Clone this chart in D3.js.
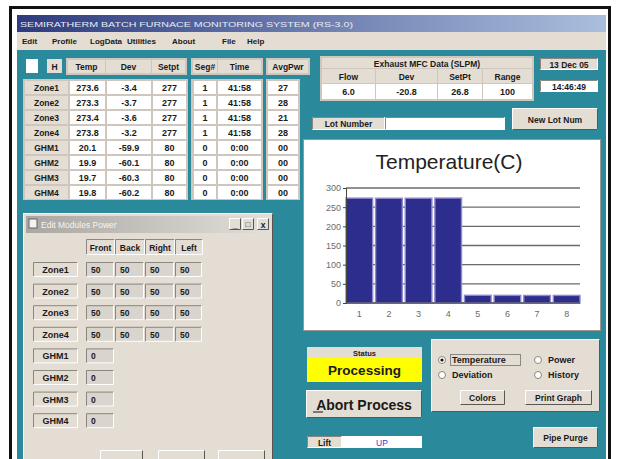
<!DOCTYPE html>
<html>
<head>
<meta charset="utf-8">
<script src="https://cdn.jsdelivr.net/npm/d3@7"></script>
<style>
  body { margin: 0; background: #fff; }
  svg { display: block; }
</style>
</head>
<body>
<div id="screen"></div>
<script>
// chart data
const channels = ["1", "2", "3", "4", "5", "6", "7", "8"];
const temps = [273.6, 273.3, 273.4, 273.8, 20.1, 19.9, 19.7, 19.8];
const tempTicks = [0, 50, 100, 150, 200, 250, 300];

// status table data
const zoneNames = ["Zone1", "Zone2", "Zone3", "Zone4", "GHM1", "GHM2", "GHM3", "GHM4"];
const devs = ["-3.4", "-3.7", "-3.6", "-3.2", "-59.9", "-60.1", "-60.3", "-60.2"];
const setpts = ["277", "277", "277", "277", "80", "80", "80", "80"];
const segs = ["1", "1", "1", "1", "0", "0", "0", "0"];
const segTimes = ["41:58", "41:58", "41:58", "41:58", "0:00", "0:00", "0:00", "0:00"];
const avgPwr = ["27", "28", "21", "28", "00", "00", "00", "00"];
const mfcHeads = ["Flow", "Dev", "SetPt", "Range"];
const mfcValues = ["6.0", "-20.8", "26.8", "100"];
const powerHeads = ["Front", "Back", "Right", "Left"];
const zonePower = [[50, 50, 50, 50], [50, 50, 50, 50], [50, 50, 50, 50], [50, 50, 50, 50]];
const ghmPower = [0, 0, 0, 0];
const menuItems = ["Edit", "Profile", "LogData", "Utilities", "About", "File", "Help"];
const menuX = [22, 52, 90, 127, 172, 222, 247];

const FONT = "'Liberation Sans', Arial, sans-serif";
const BEIGE = "#e4ddd3", TEAL = "#2a8a9c";

let svg = d3.select("#screen").append("svg")
    .attr("width", 618)
    .attr("height", 459);

// ---- helpers
function rect(x, y, w, h, fill, stroke) {
  return svg.append("rect")
    .attr("x", x).attr("y", y).attr("width", w).attr("height", h)
    .attr("fill", fill)
    .attr("stroke", stroke || "none");
}

function text(x, y, t, o) {
  o = o || {};
  return svg.append("text")
    .attr("x", x).attr("y", y)
    .attr("text-anchor", o.anchor || "middle")
    .attr("dominant-baseline", "central")
    .style("font-family", FONT)
    .style("font-size", (o.size || 8.5) + "px")
    .style("font-weight", o.weight || "bold")
    .attr("fill", o.color || "#1a1a1a")
    .text(t);
}

function edge(x, y, w, h, raised) {
  const lt = raised ? "#ffffff" : "#8a8680", rb = raised ? "#5a5650" : "#ffffff";
  svg.append("path").attr("d", `M${x + .5},${y + h - .5}V${y + .5}H${x + w - .5}`)
    .attr("fill", "none").attr("stroke", lt);
  svg.append("path").attr("d", `M${x + .5},${y + h - .5}H${x + w - .5}V${y + .5}`)
    .attr("fill", "none").attr("stroke", rb);
}

function cell(x, y, w, h, t, fill, o) {
  rect(x, y, w, h, fill);
  if (t !== "") text(x + w / 2, y + h / 2 + .5, t, o);
}

function button(x, y, w, h, t, o) {
  rect(x, y, w, h, BEIGE);
  edge(x, y, w, h, true);
  text(x + w / 2, y + h / 2 + .5, t, o);
}

// ---- outer frame and window
rect(10.5, 7.5, 599, 460, "#fff", "#111").attr("stroke-width", 3);
rect(17, 15, 589, 444, TEAL);

let grad = svg.append("defs").append("linearGradient").attr("id", "tb");
grad.append("stop").attr("offset", "0%").attr("stop-color", "#2e3b7e");
grad.append("stop").attr("offset", "100%").attr("stop-color", "#aabedd");
rect(17, 15, 589, 17, "url(#tb)");
text(20, 24, "SEMIRATHERM BATCH FURNACE MONITORING SYSTEM (RS-3.0)",
  {anchor: "start", color: "#e8ecf6", size: 8, weight: "normal"})
  .attr("textLength", 333).attr("lengthAdjust", "spacingAndGlyphs");

rect(17, 32, 589, 18, BEIGE);
menuItems.forEach((m, i) => text(menuX[i], 41, m, {anchor: "start", size: 8}));

// ---- top-left status table
rect(26, 59, 12, 14, "#fff");
cell(47, 59, 15, 14, "H", BEIGE);

rect(66, 58, 121, 17, "#cfc7bd");
cell(68, 60, 37, 13, "Temp", BEIGE);
cell(106, 60, 45, 13, "Dev", BEIGE);
cell(152, 60, 33, 13, "Setpt", BEIGE);
rect(191, 58, 72, 17, "#cfc7bd");
cell(193, 60, 24, 13, "Seg#", BEIGE);
cell(218, 60, 43, 13, "Time", BEIGE);
rect(266, 58, 44, 17, "#cfc7bd");
cell(268, 60, 40, 13, "AvgPwr", BEIGE);

rect(23, 79, 165, 121, "#cfc7bd");
rect(191, 79, 72, 121, "#cfc7bd");
rect(266, 79, 34, 121, "#cfc7bd");
zoneNames.forEach((z, i) => {
  const y = 81 + i * 15;
  cell(25, y, 43, 13, z, BEIGE);
  cell(70, y, 35, 13, temps[i].toFixed(1), "#fff", {size: 9});
  cell(107, y, 44, 13, devs[i], "#fff", {size: 9});
  cell(153, y, 33, 13, setpts[i], "#fff", {size: 9});
  cell(194, y, 22, 13, segs[i], "#fff", {size: 9});
  cell(218, y, 43, 13, segTimes[i], "#fff", {size: 9});
  cell(268, y, 30, 13, avgPwr[i], "#fff", {size: 9});
});

// ---- exhaust MFC group
rect(320, 56, 214, 45, "#cfc7bd");
cell(322, 58, 210, 10, "Exhaust MFC Data (SLPM)", BEIGE);
const mfcX = [322, 376, 438, 483], mfcW = [53, 61, 44, 49];
mfcHeads.forEach((h, i) => {
  cell(mfcX[i], 69, mfcW[i], 14, h, BEIGE);
  cell(mfcX[i], 84, mfcW[i], 15, mfcValues[i], "#fff", {size: 9});
});

cell(540, 58, 58, 12, "13 Dec 05", BEIGE);
edge(540, 58, 58, 12, false);
cell(540, 80, 58, 12, "14:46:49", "#fff");
edge(540, 80, 58, 12, false);

// ---- lot number
cell(312, 117, 73, 13, "Lot Number", BEIGE);
edge(312, 117, 73, 13, false);
rect(385, 117, 120, 13, "#fff");
edge(385, 117, 120, 13, false);
button(512, 108, 86, 22, "New Lot Num");

// ---- temperature chart
rect(303.5, 139.5, 297, 191, "#fff", "#9a9690");

let x = d3.scaleBand()
  .domain(channels)
  .range([346, 580])
  .paddingInner(0.1)
  .paddingOuter(0);
let y = d3.scaleLinear()
  .domain([0, 300])
  .range([303, 188]);

let chart = svg.append("g");

chart.selectAll(".grid")
  .data(tempTicks)
  .enter()
  .append("line")
  .attr("class", "grid")
  .attr("x1", x.range()[0]).attr("x2", x.range()[1])
  .attr("y1", d => y(d)).attr("y2", d => y(d))
  .attr("stroke", "#6e6a6a")
  .attr("stroke-width", 1.3);

chart.selectAll(".bar")
  .data(temps)
  .enter()
  .append("rect")
  .attr("class", "bar")
  .attr("x", (d, i) => x(channels[i]))
  .attr("y", d => y(d))
  .attr("width", x.bandwidth())
  .attr("height", d => y(0) - y(d))
  .attr("fill", "#2d2d8e")
  .style("stroke", "#8e8acb")
  .style("stroke-width", 1.4);

let yAxis = chart.append("g")
  .attr("transform", "translate(346,0)")
  .call(d3.axisLeft(y).tickValues(tempTicks).tickSize(3).tickPadding(2));
let xAxis = chart.append("g")
  .attr("transform", "translate(0,303)")
  .call(d3.axisBottom(x).tickSize(0).tickPadding(8));
[yAxis, xAxis].forEach(a => {
  a.selectAll("text")
    .style("font-family", FONT)
    .style("font-size", "9px")
    .attr("fill", "#6a6a6a");
  a.selectAll("line, path").attr("stroke", "#444");
});
xAxis.select(".domain").attr("d", "M346,0H580");

chart.append("text")
  .attr("x", 449)
  .attr("y", 161)
  .attr("text-anchor", "middle")
  .attr("dominant-baseline", "central")
  .style("font-family", FONT)
  .style("font-size", "21px")
  .attr("fill", "#222")
  .text("Temperature(C)");

// ---- status, abort, lift
cell(307, 347, 115, 11, "Status", BEIGE, {size: 7.5});
rect(307, 358, 115, 24, "#ffff00");
text(364.5, 370.5, "Processing", {size: 13.5});
button(306, 390, 116, 28, "", {});
text(364, 404.5, "Abort Process", {size: 14});
svg.append("line").attr("x1", 313).attr("x2", 323).attr("y1", 412).attr("y2", 412)
  .attr("stroke", "#111");
cell(307, 436, 35, 12, "Lift", BEIGE);
edge(307, 436, 35, 12, false);
cell(342, 436, 80, 12, "UP", "#fff", {color: "#3a3ad0", weight: "normal"});

// ---- graph options
rect(431, 339, 169, 73, BEIGE);
edge(431, 339, 169, 73, true);
const radios = [
  {t: "Temperature", x: 442, y: 360, on: true},
  {t: "Deviation", x: 442, y: 375, on: false},
  {t: "Power", x: 538, y: 360, on: false},
  {t: "History", x: 538, y: 375, on: false}
];
radios.forEach(r => {
  svg.append("circle").attr("cx", r.x).attr("cy", r.y).attr("r", 3.5)
    .attr("fill", "#fff").attr("stroke", "#8a8680");
  if (r.on) svg.append("circle").attr("cx", r.x).attr("cy", r.y).attr("r", 1.6).attr("fill", "#111");
  text(r.x + 10, r.y, r.t, {anchor: "start", size: 9});
});
rect(450.5, 354.5, 70, 11, "none", "#333").attr("stroke-dasharray", "1,1");
button(460, 390, 45, 15, "Colors");
button(525, 390, 67, 15, "Print Graph");
button(533, 427, 65, 21, "Pipe Purge");

// ---- edit modules power dialog
rect(23, 213, 250, 250, BEIGE);
edge(23, 213, 250, 250, true);
let dgrad = svg.select("defs").append("linearGradient").attr("id", "dt");
dgrad.append("stop").attr("offset", "0%").attr("stop-color", "#aaa6a2");
dgrad.append("stop").attr("offset", "100%").attr("stop-color", "#e2deda");
rect(26, 216, 244, 17, "url(#dt)");
rect(29, 219, 8, 9, "#f2f2f2", "#666");
text(41, 224.5, "Edit Modules Power", {anchor: "start", color: "#f4f4f4", weight: "normal"});
button(229, 218, 12, 12, "_");
button(242, 218, 12, 12, "□", {size: 8, weight: "normal"});
button(257, 218, 12, 12, "x");

const pwX = [86, 115, 145, 175], pwW = [29, 30, 30, 28];
powerHeads.forEach((h, i) => {
  cell(pwX[i], 239, pwW[i], 16, h, BEIGE);
  edge(pwX[i], 239, pwW[i], 16, false);
});
zoneNames.forEach((z, i) => {
  const ry = 262 + i * 21.6;
  cell(33, ry, 45, 15, z, BEIGE, {size: 9});
  edge(33, ry, 45, 15, false);
  const vals = i < 4 ? zonePower[i] : [ghmPower[i - 4]];
  vals.forEach((v, j) => {
    rect(pwX[j], ry, pwW[j] - 1, 15, "#d9d4ce");
    edge(pwX[j], ry, pwW[j] - 1, 15, false);
    text(pwX[j] + 5, ry + 8, String(v), {anchor: "start"});
  });
});
[[100, 43], [158, 47], [218, 47]].forEach(b => {
  rect(b[0], 450, b[1], 12, BEIGE);
  edge(b[0], 450, b[1], 12, true);
});
</script>
</body>
</html>
